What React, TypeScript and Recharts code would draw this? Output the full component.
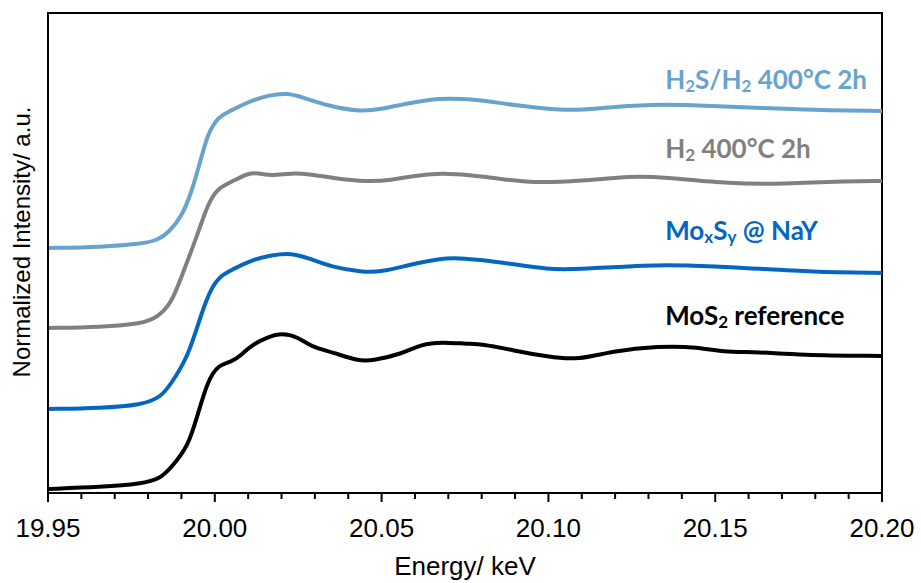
import React from "react";
import { LineChart, Line, XAxis, YAxis, ReferenceArea, ReferenceDot } from "recharts";

// Energy (keV) and normalized intensity (offset, a.u.) for each spectrum
const h2sEnergy = [19.95, 19.966, 19.978, 19.983, 19.986, 19.99, 19.993, 19.996, 19.998, 20.001, 20.004, 20.01, 20.016, 20.022, 20.026, 20.034, 20.044, 20.05, 20.058, 20.068, 20.074, 20.08, 20.089, 20.103, 20.11, 20.119, 20.134, 20.149, 20.164, 20.179, 20.2];
const h2sIntensity = [2.45, 2.46, 2.49, 2.53, 2.6, 2.76, 3.0, 3.36, 3.6, 3.76, 3.81, 3.91, 3.98, 4.0, 3.96, 3.87, 3.81, 3.84, 3.9, 3.95, 3.94, 3.93, 3.88, 3.83, 3.83, 3.86, 3.89, 3.87, 3.85, 3.83, 3.82];

const h2Energy = [19.95, 19.966, 19.978, 19.983, 19.987, 19.99, 19.995, 19.998, 20.001, 20.005, 20.01, 20.013, 20.017, 20.023, 20.028, 20.035, 20.046, 20.053, 20.059, 20.068, 20.076, 20.086, 20.095, 20.11, 20.125, 20.134, 20.155, 20.17, 20.19, 20.2];
const h2Intensity = [1.65, 1.66, 1.69, 1.76, 1.9, 2.16, 2.6, 2.9, 3.05, 3.11, 3.2, 3.2, 3.17, 3.2, 3.19, 3.15, 3.11, 3.13, 3.17, 3.2, 3.18, 3.14, 3.1, 3.12, 3.17, 3.16, 3.09, 3.09, 3.12, 3.12];

const moxsyEnergy = [19.95, 19.966, 19.978, 19.984, 19.987, 19.992, 19.996, 19.999, 20.002, 20.005, 20.011, 20.017, 20.023, 20.028, 20.035, 20.044, 20.05, 20.058, 20.068, 20.074, 20.086, 20.1, 20.11, 20.13, 20.14, 20.16, 20.179, 20.2];
const moxsyIntensity = [0.84, 0.85, 0.88, 0.96, 1.1, 1.36, 1.8, 2.06, 2.18, 2.23, 2.33, 2.38, 2.4, 2.35, 2.26, 2.21, 2.21, 2.28, 2.35, 2.35, 2.31, 2.23, 2.24, 2.28, 2.28, 2.25, 2.21, 2.2];

const mos2Energy = [19.95, 19.966, 19.978, 19.984, 19.987, 19.992, 19.995, 19.998, 20.001, 20.005, 20.008, 20.011, 20.016, 20.02, 20.025, 20.029, 20.035, 20.043, 20.047, 20.056, 20.062, 20.068, 20.076, 20.08, 20.089, 20.1, 20.109, 20.119, 20.133, 20.145, 20.152, 20.163, 20.175, 20.2];
const mos2Intensity = [0.04, 0.06, 0.09, 0.15, 0.26, 0.46, 0.8, 1.13, 1.28, 1.31, 1.38, 1.48, 1.56, 1.6, 1.56, 1.46, 1.41, 1.32, 1.32, 1.39, 1.49, 1.51, 1.49, 1.49, 1.43, 1.36, 1.33, 1.42, 1.47, 1.46, 1.41, 1.41, 1.38, 1.37];

const xTicks = [19.95, 19.96, 19.97, 19.98, 19.99, 20.0, 20.01, 20.02, 20.03, 20.04, 20.05, 20.06, 20.07, 20.08, 20.09, 20.1, 20.11, 20.12, 20.13, 20.14, 20.15, 20.16, 20.17, 20.18, 20.19, 20.2];

// Series labels: [text, isSubscript] pieces, color, anchor position
const labelX = 20.135;
const seriesLabels = [
  { parts: [["H", false], ["2", true], ["S/H", false], ["2", true], [" 400°C 2h", false]], color: "#67A3CD", y: 4.04 },
  { parts: [["H", false], ["2", true], [" 400°C 2h", false]], color: "#808080", y: 3.35 },
  { parts: [["Mo", false], ["x", true], ["S", false], ["y", true], [" @ NaY", false]], color: "#0566C0", y: 2.53 },
  { parts: [["MoS", false], ["2", true], [" reference", false]], color: "#000000", y: 1.68 },
];

const toData = (es: number[], vs: number[]) => es.map((e, i) => ({ e, v: vs[i] }));

const series = [
  { name: "MoS2 reference", data: toData(mos2Energy, mos2Intensity), color: "#000000" },
  { name: "MoxSy @ NaY", data: toData(moxsyEnergy, moxsyIntensity), color: "#0566C0" },
  { name: "H2 400°C 2h", data: toData(h2Energy, h2Intensity), color: "#808080" },
  { name: "H2S/H2 400°C 2h", data: toData(h2sEnergy, h2sIntensity), color: "#67A3CD" },
];

const AxisTick = (props: any) => {
  const { x, y, payload } = props;
  const v = payload.value as number;
  const major = Math.round(v * 100) % 5 === 0;
  return (
    <g>
      <line x1={x} x2={x} y1={y} y2={y + (major ? 9 : 6)} stroke="#000" strokeWidth={2} />
      {major && (
        <text x={x} y={y + 44} textAnchor="middle" fontFamily="Liberation Sans, Arial, sans-serif" fontSize={26} fill="#000">
          {v.toFixed(2)}
        </text>
      )}
    </g>
  );
};

const makeLabel = (parts: any[], color: string) => (props: any) => {
  const { viewBox } = props;
  const cx = viewBox.x + (viewBox.width || 0) / 2;
  const cy = viewBox.y + (viewBox.height || 0) / 2;
  return (
    <text x={cx} y={cy} fill={color} fontFamily="Lato, 'Open Sans', sans-serif" fontWeight={700} fontSize={26} textAnchor="start">
      {parts.map((p: any, i: number) =>
        p[1] ? (
          <tspan key={i} fontSize={17} dy={3}>{p[0]}</tspan>
        ) : (
          <tspan key={i} dy={i > 0 && parts[i - 1][1] ? -3 : 0}>{p[0]}</tspan>
        )
      )}
    </text>
  );
};

const YLabel = (props: any) => {
  const { viewBox } = props;
  const cy = viewBox.y + viewBox.height / 2 - 11;
  const cx = 21;
  return (
    <text
      x={cx}
      y={cy}
      transform={`rotate(-90 ${cx} ${cy})`}
      textAnchor="middle"
      dominantBaseline="central"
      fontFamily="Liberation Sans, Arial, sans-serif"
      fontSize={24}
      fill="#000"
    >
      Normalized Intensity/ a.u.
    </text>
  );
};

export default function App() {
  return (
    <div style={{ position: "absolute", left: 0, top: 0, width: 921, height: 583, background: "#fff" }}>
      <LineChart width={921} height={583} margin={{ top: 13, right: 39, bottom: 30, left: 0 }}>
        <XAxis
          type="number"
          dataKey="e"
          domain={[19.95, 20.2]}
          ticks={xTicks}
          allowDataOverflow
          interval={0}
          tick={<AxisTick />}
          tickLine={false}
          tickSize={0}
          tickMargin={0}
          axisLine={{ stroke: "#000", strokeWidth: 2 }}
          height={60}
          label={{ value: "Energy/ keV", position: "insideBottom", offset: -22, fontSize: 26, fill: "#000", fontFamily: "Liberation Sans, Arial, sans-serif" }}
        />
        <YAxis
          type="number"
          domain={[0, 4.8]}
          allowDataOverflow
          tick={false}
          tickLine={false}
          axisLine={{ stroke: "#000", strokeWidth: 2 }}
          width={48}
          label={<YLabel />}
        />
        <ReferenceArea x1={19.95} x2={20.2} y1={0} y2={4.8} fill="none" stroke="#000" strokeWidth={2} ifOverflow="visible" />
        {series.map((s) => (
          <Line
            key={s.name}
            data={s.data}
            dataKey="v"
            name={s.name}
            type="basis"
            stroke={s.color}
            strokeWidth={4}
            dot={false}
            activeDot={false}
            isAnimationActive={false}
          />
        ))}
        {seriesLabels.map((l, i) => (
          <ReferenceDot key={i} x={labelX} y={l.y} r={0} fill="none" stroke="none" label={makeLabel(l.parts, l.color)} />
        ))}
      </LineChart>
    </div>
  );
}
